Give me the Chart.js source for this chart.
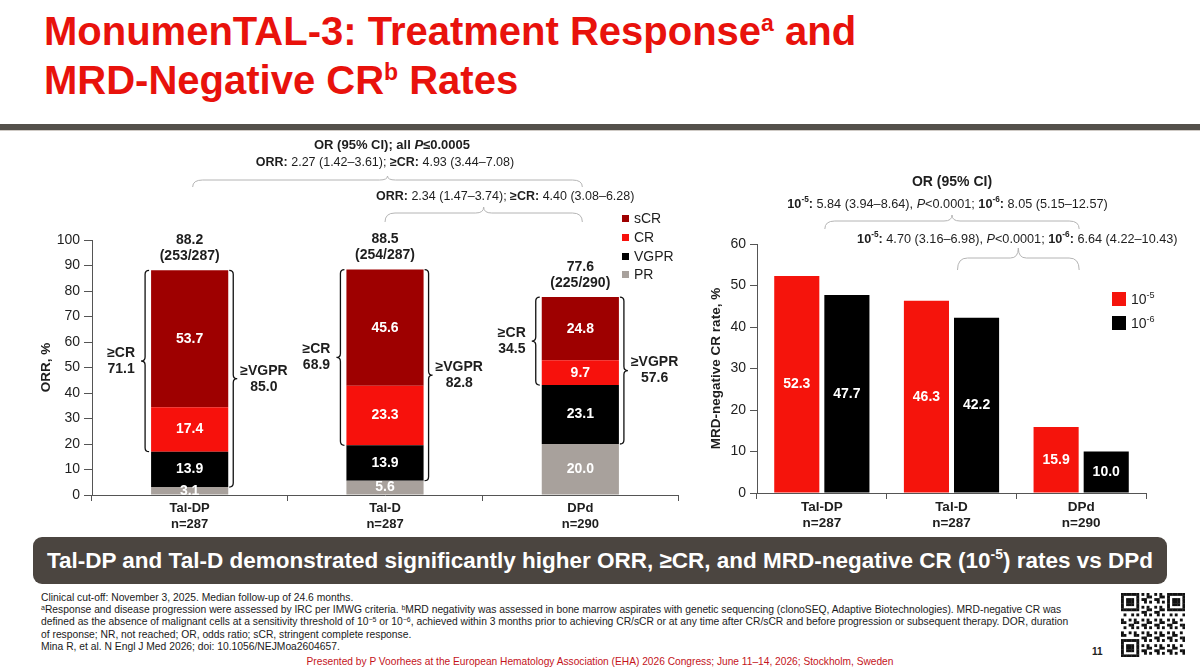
<!DOCTYPE html>
<html>
<head>
<meta charset="utf-8">
<script src="https://cdn.jsdelivr.net/npm/chart.js@4.4.0/dist/chart.umd.min.js"></script>
<style>
  body { margin: 0; width: 1200px; height: 671px; overflow: hidden; background: #fff; position: relative;
         font-family: "Liberation Sans", Arial, sans-serif; }
  .title { position: absolute; left: 44px; top: 7px; color: #e8120c; font-weight: bold; font-size: 40px;
           line-height: 48.5px; white-space: nowrap; }
  .title sup { font-size: 23px; line-height: 0; vertical-align: 14px; }
  .rule { position: absolute; left: 0; top: 124px; width: 1200px; height: 6px; background: #54504b;
          border-bottom: 1px solid #cfcac5; }
  #orrBox { position: absolute; left: 0; top: 130px; }
  #mrdBox { position: absolute; left: 690px; top: 130px; }
  .banner { position: absolute; left: 33px; top: 537px; width: 1134px; height: 47px; background: #4b4540;
            border-radius: 9px; color: #fff; font-weight: bold; font-size: 22.5px; line-height: 47px;
            text-align: center; white-space: nowrap; }
  .banner sup { font-size: 14px; line-height: 0; vertical-align: 9px; }
  .notes { position: absolute; left: 41px; top: 592px; font-size: 10.3px; line-height: 12.2px; color: #1a1a1a;
           white-space: nowrap; }
  .notes sup { font-size: 7px; line-height: 0; vertical-align: 3px; }
  .presented { position: absolute; left: 0; width: 1200px; top: 656px; text-align: center; color: #c4141b;
               font-size: 10.2px; white-space: nowrap; }
  .page { position: absolute; left: 1092px; top: 646px; font-size: 10px; font-weight: bold; color: #222; }
  #qr { position: absolute; left: 1121px; top: 593px; }
</style>
</head>
<body>
<div class="title">MonumenTAL-3: Treatment Response<sup>a</sup> and<br>MRD-Negative CR<sup>b</sup> Rates</div>
<div class="rule"></div>

<div id="orrBox"><canvas id="orrChart" width="690" height="405"></canvas></div>
<div id="mrdBox"><canvas id="mrdChart" width="510" height="405"></canvas></div>

<div class="banner">Tal-DP and Tal-D demonstrated significantly higher ORR, ≥CR, and MRD-negative CR (10<sup>-5</sup>) rates vs DPd</div>

<div class="notes">
Clinical cut-off: November 3, 2025. Median follow-up of 24.6 months.<br>
<sup>a</sup>Response and disease progression were assessed by IRC per IMWG criteria. <sup>b</sup>MRD negativity was assessed in bone marrow aspirates with genetic sequencing (clonoSEQ, Adaptive Biotechnologies). MRD-negative CR was<br>
defined as the absence of malignant cells at a sensitivity threshold of 10<sup>−5</sup> or 10<sup>−6</sup>, achieved within 3 months prior to achieving CR/sCR or at any time after CR/sCR and before progression or subsequent therapy. DOR, duration<br>
of response; NR, not reached; OR, odds ratio; sCR, stringent complete response.<br>
Mina R, et al. N Engl J Med 2026; doi: 10.1056/NEJMoa2604657.
</div>
<div class="presented">Presented by P Voorhees at the European Hematology Association (EHA) 2026 Congress; June 11–14, 2026; Stockholm, Sweden</div>
<div class="page">11</div>
<canvas id="qr" width="64" height="64"></canvas>

<script>
// ---- 데이터: 치료 반응 (왼쪽 차트) ----
const armLabels = [['Tal-DP', 'n=287'], ['Tal-D', 'n=287'], ['DPd', 'n=290']];
const prValues = [3.1, 5.6, 20.0];
const vgprValues = [13.9, 13.9, 23.1];
const crValues = [17.4, 23.3, 9.7];
const scrValues = [53.7, 45.6, 24.8];
const orrTotals = ['88.2', '88.5', '77.6'];
const orrCounts = ['(253/287)', '(254/287)', '(225/290)'];
const crOrBetter = ['71.1', '68.9', '34.5'];
const vgprOrBetter = ['85.0', '82.8', '57.6'];
const orrTicks = { min: 0, max: 100, step: 10 };

// ---- 데이터: MRD 음성 CR (오른쪽 차트) ----
const mrd5Values = [52.3, 46.3, 15.9];
const mrd6Values = [47.7, 42.2, 10.0];
const mrdTicks = { min: 0, max: 60, step: 10 };

// 비교 주석 (텍스트 run: [문자열, 스타일])  b=bold, i=italic, bi=bold italic, s=superscript
const orrHeader = [['OR (95% CI); all ', 'b'], ['P', 'bi'], ['≤0.0005', 'b']];
const orrComparisons = [
  { from: 0, to: 2, runs: [['ORR:', 'b'], [' 2.27 (1.42–3.61); ', ''], ['≥CR:', 'b'], [' 4.93 (3.44–7.08)', '']] },
  { from: 1, to: 2, runs: [['ORR:', 'b'], [' 2.34 (1.47–3.74); ', ''], ['≥CR:', 'b'], [' 4.40 (3.08–6.28)', '']] }
];
const mrdHeader = [['OR (95% CI)', 'b']];
const mrdComparisons = [
  { from: 0, to: 2, runs: [['10', 'b'], ['-5', 'bs'], [': ', 'b'], ['5.84 (3.94–8.64), ', ''], ['P', 'i'], ['<0.0001; ', ''],
                           ['10', 'b'], ['-6', 'bs'], [': ', 'b'], ['8.05 (5.15–12.57)', '']] },
  { from: 1, to: 2, runs: [['10', 'b'], ['-5', 'bs'], [': ', 'b'], ['4.70 (3.16–6.98), ', ''], ['P', 'i'], ['<0.0001; ', ''],
                           ['10', 'b'], ['-6', 'bs'], [': ', 'b'], ['6.64 (4.22–10.43)', '']] }
];

const FONT = '"Liberation Sans", Arial, sans-serif';
const AXIS = '#555';
const INK = '#1e1e1e';

// 텍스트 run 그리기 (굵게/기울임/위첨자 혼합)
function runFont(style, size) {
  const sup = style.includes('s');
  const px = sup ? size * 0.65 : size;
  return (style.includes('i') ? 'italic ' : '') + (style.includes('b') ? 'bold ' : '') + px + 'px ' + FONT;
}
function drawRuns(ctx, runs, x, y, align, size) {
  let total = 0;
  runs.forEach(([t, st]) => { ctx.font = runFont(st, size); total += ctx.measureText(t).width; });
  let cx = align === 'center' ? x - total / 2 : align === 'right' ? x - total : x;
  ctx.textAlign = 'left';
  ctx.textBaseline = 'middle';
  runs.forEach(([t, st]) => {
    ctx.font = runFont(st, size);
    ctx.fillText(t, cx, st.includes('s') ? y - size * 0.35 : y);
    cx += ctx.measureText(t).width;
  });
}

// 세로 중괄호 (dir -1: 왼쪽으로 뾰족, +1: 오른쪽으로 뾰족)
function vBrace(ctx, x, top, bottom, dir) {
  const lx = x + dir * 4, tx = x + dir * 8, mid = (top + bottom) / 2, r = 4;
  ctx.beginPath();
  ctx.moveTo(x, top);
  ctx.quadraticCurveTo(lx, top, lx, top + r);
  ctx.lineTo(lx, mid - r);
  ctx.quadraticCurveTo(lx, mid, tx, mid);
  ctx.quadraticCurveTo(lx, mid, lx, mid + r);
  ctx.lineTo(lx, bottom - r);
  ctx.quadraticCurveTo(lx, bottom, x, bottom);
  ctx.stroke();
}

// 가로 중괄호 (위로 뾰족)
function hBrace(ctx, x1, x2, yEnd, yLine, yTip) {
  const mid = (x1 + x2) / 2, r = 10, r2 = 8;
  ctx.beginPath();
  ctx.moveTo(x1, yEnd);
  ctx.quadraticCurveTo(x1, yLine, x1 + r, yLine);
  ctx.lineTo(mid - r2, yLine);
  ctx.quadraticCurveTo(mid, yLine, mid, yTip);
  ctx.quadraticCurveTo(mid, yLine, mid + r2, yLine);
  ctx.lineTo(x2 - r, yLine);
  ctx.quadraticCurveTo(x2, yLine, x2, yEnd);
  ctx.stroke();
}

// 막대 안쪽 값 라벨
const barValuePlugin = {
  id: 'barValues',
  afterDatasetsDraw(chart) {
    const { ctx, chartArea } = chart;
    ctx.save();
    ctx.beginPath();
    ctx.rect(chartArea.left, chartArea.top, chartArea.right - chartArea.left, chartArea.bottom - chartArea.top);
    ctx.clip();
    ctx.fillStyle = '#fff';
    ctx.font = 'bold 14px ' + FONT;
    ctx.textAlign = 'center';
    ctx.textBaseline = 'middle';
    chart.data.datasets.forEach((ds, i) => {
      chart.getDatasetMeta(i).data.forEach((bar, j) => {
        ctx.fillText(ds.data[j].toFixed(1), bar.x, (bar.y + bar.base) / 2);
      });
    });
    ctx.restore();
  }
};

// 왼쪽 차트 주석: 합계, 중괄호, 범례, OR 비교
const orrNotesPlugin = {
  id: 'orrNotes',
  afterDraw(chart) {
    const { ctx } = chart;
    const x = chart.scales.x;
    const metas = chart.data.datasets.map((_, i) => chart.getDatasetMeta(i));
    ctx.save();
    ctx.fillStyle = INK;
    ctx.strokeStyle = '#111';
    ctx.lineWidth = 1.3;
    armLabels.forEach((_, j) => {
      const top = metas[3].data[j];
      const crBase = metas[2].data[j].base;
      const vgprBase = metas[1].data[j].base;
      const left = top.x - top.width / 2, right = top.x + top.width / 2;
      drawRuns(ctx, [[orrTotals[j], 'b']], top.x, top.y - 30, 'center', 14);
      drawRuns(ctx, [[orrCounts[j], 'b']], top.x, top.y - 14, 'center', 14);
      // ≥CR
      vBrace(ctx, left - 2, top.y, crBase, -1);
      const midCr = (top.y + crBase) / 2;
      ctx.font = 'bold 14px ' + FONT;
      const wCr = Math.max(ctx.measureText('≥CR').width, ctx.measureText(crOrBetter[j]).width);
      drawRuns(ctx, [['≥CR', 'b']], left - 16 - wCr / 2, midCr - 8, 'center', 14);
      drawRuns(ctx, [[crOrBetter[j], 'b']], left - 16 - wCr / 2, midCr + 8, 'center', 14);
      // ≥VGPR
      vBrace(ctx, right + 1, top.y, vgprBase, 1);
      const midV = (top.y + vgprBase) / 2;
      const wV = ctx.measureText('≥VGPR').width;
      drawRuns(ctx, [['≥VGPR', 'b']], right + 12 + wV / 2, midV - 8, 'center', 14);
      drawRuns(ctx, [[vgprOrBetter[j], 'b']], right + 12 + wV / 2, midV + 8, 'center', 14);
    });

    // 범례
    const legendY = [89, 108, 127, 145];
    [3, 2, 1, 0].forEach((di, k) => {
      const ds = chart.data.datasets[di];
      ctx.fillStyle = ds.backgroundColor;
      ctx.fillRect(622, legendY[k] - 4, 7, 7);
      ctx.fillStyle = INK;
      drawRuns(ctx, [[ds.label, '']], 634, legendY[k], 'left', 14);
    });

    // OR 비교
    drawRuns(ctx, orrHeader, 392, 15, 'center', 13);
    const c0 = orrComparisons[0], c1 = orrComparisons[1];
    const a0 = x.getPixelForValue(c0.from), b0 = x.getPixelForValue(c0.to);
    drawRuns(ctx, c0.runs, (a0 + b0) / 2, 33, 'center', 12.5);
    const a1 = x.getPixelForValue(c1.from), b1 = x.getPixelForValue(c1.to);
    drawRuns(ctx, c1.runs, a1 - 9, 67, 'left', 12.5);
    ctx.strokeStyle = '#b4b4b4';
    ctx.lineWidth = 1;
    hBrace(ctx, a0 + 3, b0 + 2, 57, 50, 46);
    hBrace(ctx, a1, b1 + 2, 92, 83, 77);
    ctx.restore();
  }
};

// 오른쪽 차트 주석: 범례, OR 비교
const mrdNotesPlugin = {
  id: 'mrdNotes',
  afterDraw(chart) {
    const { ctx } = chart;
    const x = chart.scales.x;
    ctx.save();
    const legendY = [169, 193];
    chart.data.datasets.forEach((ds, k) => {
      ctx.fillStyle = ds.backgroundColor;
      ctx.fillRect(422, legendY[k] - 7, 14, 14);
      ctx.fillStyle = INK;
      const [base, sup] = ds.label.split('^');
      drawRuns(ctx, [[base, ''], [sup, 's']], 441, legendY[k] + 1, 'left', 14);
    });
    ctx.fillStyle = INK;
    drawRuns(ctx, mrdHeader, 262, 52, 'center', 14);
    const c0 = mrdComparisons[0], c1 = mrdComparisons[1];
    const a0 = x.getPixelForValue(c0.from), b0 = x.getPixelForValue(c0.to);
    const a1 = x.getPixelForValue(c1.from), b1 = x.getPixelForValue(c1.to);
    drawRuns(ctx, c0.runs, (a0 + b0) / 2 - 4, 74, 'center', 12.7);
    drawRuns(ctx, c1.runs, (a1 + b1) / 2 + 1, 109, 'center', 12.7);
    ctx.strokeStyle = '#b4b4b4';
    ctx.lineWidth = 1;
    hBrace(ctx, a0 + 3, b0 - 2, 99, 91, 85);
    hBrace(ctx, a1 + 6, b1 - 2, 140, 128, 118);
    ctx.restore();
  }
};

function yAxis(ticks, title, titlePad, width, tickLen) {
  return {
    min: ticks.min, max: ticks.max, stacked: true,
    border: { display: true, color: AXIS, width: 1 },
    grid: { drawOnChartArea: false, drawTicks: true, tickLength: tickLen, color: AXIS },
    ticks: { stepSize: ticks.step, padding: 4, color: INK, font: { family: FONT, size: 14 } },
    title: { display: true, text: title, color: INK, padding: { top: titlePad, bottom: 0 },
             font: { family: FONT, size: 13.5, weight: 'bold' } },
    afterFit: s => { s.width = width; }
  };
}
function xAxis(height, size, stacked) {
  return {
    stacked: stacked,
    border: { display: true, color: AXIS, width: 1 },
    grid: { drawOnChartArea: false, drawTicks: true, tickLength: 6, color: AXIS, offset: true },
    ticks: { padding: 0, color: INK, font: { family: FONT, size: size, weight: 'bold', lineHeight: 1.2 } },
    afterFit: s => { s.height = height; }
  };
}

new Chart(document.getElementById('orrChart'), {
  type: 'bar',
  data: {
    labels: armLabels,
    datasets: [
      { label: 'PR', data: prValues, backgroundColor: '#a8a19c' },
      { label: 'VGPR', data: vgprValues, backgroundColor: '#000000' },
      { label: 'CR', data: crValues, backgroundColor: '#f7110c' },
      { label: 'sCR', data: scrValues, backgroundColor: '#9e0000' }
    ]
  },
  options: {
    responsive: false,
    animation: false,
    layout: { padding: { top: 110, right: 12, left: 0, bottom: 0 } },
    datasets: { bar: { categoryPercentage: 1, barPercentage: 0.395 } },
    plugins: { legend: { display: false }, tooltip: { enabled: false } },
    scales: {
      x: xAxis(40, 13, true),
      y: yAxis(orrTicks, 'ORR, %', 38, 92, 8)
    }
  },
  plugins: [barValuePlugin, orrNotesPlugin]
});

new Chart(document.getElementById('mrdChart'), {
  type: 'bar',
  data: {
    labels: armLabels,
    datasets: [
      { label: '10^-5', data: mrd5Values, backgroundColor: '#f5140c' },
      { label: '10^-6', data: mrd6Values, backgroundColor: '#000000' }
    ]
  },
  options: {
    responsive: false,
    animation: false,
    layout: { padding: { top: 114, right: 54, left: 0, bottom: 0 } },
    datasets: { bar: { categoryPercentage: 0.773, barPercentage: 0.9 } },
    plugins: { legend: { display: false }, tooltip: { enabled: false } },
    scales: {
      x: xAxis(42, 13.5, false),
      y: Object.assign(yAxis(mrdTicks, 'MRD-negative CR rate, %', 18, 67, 7), { stacked: false })
    }
  },
  plugins: [barValuePlugin, mrdNotesPlugin]
});

// QR 코드 모양 (장식)
(function drawQr() {
  const c = document.getElementById('qr').getContext('2d');
  const n = 25, m = 64 / n;
  c.fillStyle = '#fff';
  c.fillRect(0, 0, 64, 64);
  c.fillStyle = '#111';
  const finder = (fx, fy) => {
    for (let i = 0; i < 7; i++) for (let j = 0; j < 7; j++) {
      const edge = i === 0 || i === 6 || j === 0 || j === 6;
      const core = i >= 2 && i <= 4 && j >= 2 && j <= 4;
      if (edge || core) c.fillRect((fx + i) * m, (fy + j) * m, m + 0.3, m + 0.3);
    }
  };
  for (let i = 0; i < n; i++) for (let j = 0; j < n; j++) {
    const inFinder = (i < 8 && j < 8) || (i > n - 9 && j < 8) || (i < 8 && j > n - 9);
    if (inFinder) continue;
    if (((i * 37 + j * 11 + i * j * 7) % 5) < 2) c.fillRect(i * m, j * m, m + 0.3, m + 0.3);
  }
  finder(0, 0); finder(n - 7, 0); finder(0, n - 7);
})();
</script>
</body>
</html>
